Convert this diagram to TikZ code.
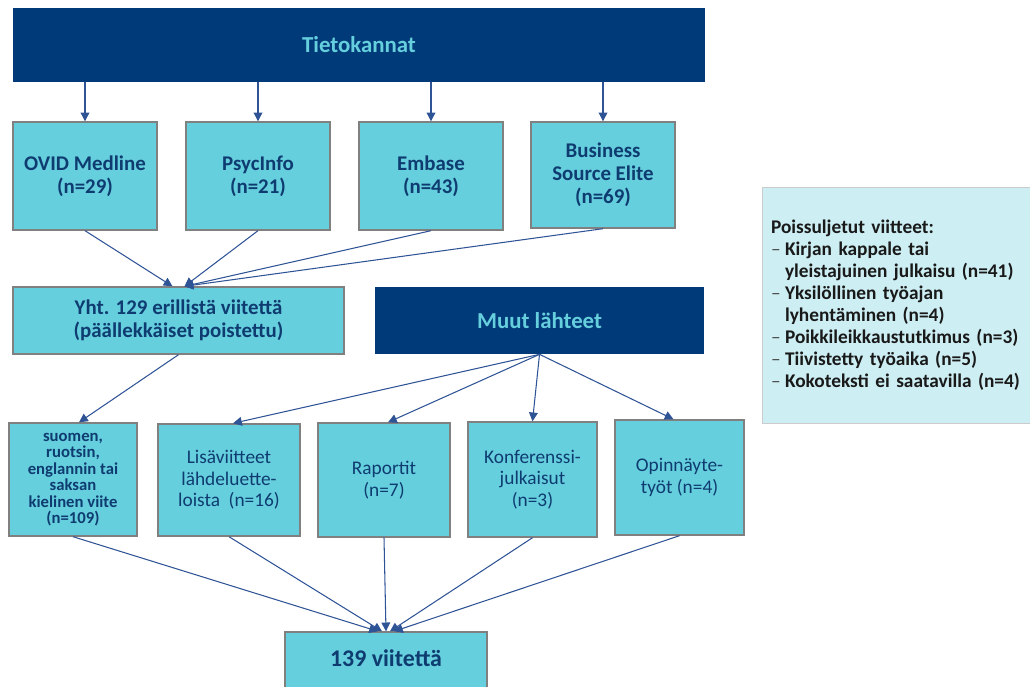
\documentclass[tikz,border=0pt]{standalone}
\usepackage{fontspec}
\setmainfont{Carlito}
\usetikzlibrary{arrows.meta,calc}
\definecolor{tummasin}{RGB}{0,58,120}
\definecolor{turkoosi}{RGB}{102,207,222}
\definecolor{vaalea}{RGB}{205,238,243}
\definecolor{teksti}{RGB}{14,60,112}
\definecolor{viiva}{RGB}{47,84,150}
\newcommand{\luetmerkki}{\makebox[0.28cm][l]{\mdseries\color{black!70}--}}

\tikzset{
	otsikko/.style={fill=tummasin, text=turkoosi, font=\bfseries\fontsize{13}{15}\selectfont},
	laatikko/.style={fill=turkoosi, draw=black!50, line width=0.8pt, text=teksti, align=center, font=\bfseries\fontsize{11.9}{13}\selectfont},
	ohut/.style={laatikko, font=\fontsize{11}{12.2}\selectfont},
	nuoli/.style={draw=viiva, line width=0.6pt, -{Triangle[width=5pt,length=5pt]}}
}

\begin{document}
\begin{tikzpicture}[x=0.02cm, y=-0.02cm]
		%%%%% START %%%%%
		\useasboundingbox (0,0) rectangle (1030,686);
		
		\node[otsikko, minimum width=13.84cm, minimum height=1.48cm] (tieto) at (359,45) {Tietokannat};
		
		\node[laatikko, minimum width=2.88cm, minimum height=2.16cm] (ovid) at (85,176) {OVID Medline\\(n=29)};
		\node[laatikko, minimum width=2.88cm, minimum height=2.16cm] (psyc) at (258,176) {PsycInfo\\(n=21)};
		\node[laatikko, minimum width=2.88cm, minimum height=2.16cm] (embase) at (431,176) {Embase\\(n=43)};
		\node[laatikko, minimum width=2.88cm, minimum height=2.12cm] (bse) at (603,175) {Business\\Source Elite\\(n=69)};
		
		\node[laatikko, minimum width=6.62cm, minimum height=1.34cm] (yht) at (178.5,320.5) {Yht. 129 erillistä viitettä\\(päällekkäiset poistettu)};
		\node[otsikko, minimum width=6.58cm, minimum height=1.34cm] (muut) at (539.5,320.5) {Muut lähteet};
		
		\node[laatikko, font=\bfseries\fontsize{9.5}{9.4}\selectfont, minimum width=2.56cm, minimum height=2.26cm] (kieli) at (73,479.5) {suomen,\\ruotsin,\\englannin tai\\saksan\\kielinen viite\\(n=109)};
		\node[ohut, minimum width=2.84cm, minimum height=2.24cm] (lisa) at (229,480) {Lisäviitteet\\lähdeluette-\\loista~ (n=16)};
		\node[ohut, minimum width=2.64cm, minimum height=2.28cm] (rap) at (384,480) {Raportit\\(n=7)};
		\node[ohut, minimum width=2.58cm, minimum height=2.30cm] (konf) at (532.5,479.5) {Konferenssi-\\julkaisut\\(n=3)};
		\node[ohut, minimum width=2.58cm, minimum height=2.30cm] (opin) at (679.5,477.5) {Opinnäyte-\\työt (n=4)};
		
		\node[laatikko, font=\bfseries\fontsize{13.6}{15}\selectfont, minimum width=4.04cm, minimum height=1.2cm] (yhteensa) at (386,662) {\raisebox{0.14cm}{139 viitettä}};
		
		\node[fill=vaalea, draw=black!20, line width=0.5pt, minimum width=5.36cm, minimum height=4.72cm, text width=5.0cm, align=left, text=black!90, font=\bfseries\fontsize{11}{12.5}\selectfont] (poissu) at (896,305) {Poissuljetut viitteet:\\
			\luetmerkki Kirjan kappale tai\\
			\hspace*{0.28cm}yleistajuinen julkaisu (n=41)\\
			\luetmerkki Yksilöllinen työajan\\
			\hspace*{0.28cm}lyhentäminen (n=4)\\
			\luetmerkki Poikkileikkaustutkimus (n=3)\\
			\luetmerkki Tiivistetty työaika (n=5)\\
			\luetmerkki Kokoteksti ei saatavilla (n=4)};
		
		\foreach \b in {ovid,psyc,embase,bse}
			\draw[nuoli] (tieto.south -| \b) -- (\b.north);
		
		\draw[nuoli] (ovid.south) -- ($(yht.north)+(-6,0)$);
		\foreach \b in {psyc,embase,bse}
			\draw[nuoli] (\b.south) -- ($(yht.north)+(6,0)$);
		
		\draw[nuoli] (yht.south) -- ($(kieli.north)+(6,0)$);
		\draw[nuoli] (muut.south) -- ($(lisa.north)+(4,0)$);
		\draw[nuoli] (muut.south) -- ($(rap.north)+(4,0)$);
		\draw[nuoli] (muut.south) -- (konf.north);
		\draw[nuoli] (muut.south) -- ($(opin.north)+(-6,0)$);
		
		\foreach \b/\s in {kieli/-8,lisa/-4,rap/0,konf/4,opin/8}
			\draw[nuoli] (\b.south) -- ($(yhteensa.north)+(\s,0)$);
		
		%%%%% END %%%%%
\end{tikzpicture}
\end{document}
